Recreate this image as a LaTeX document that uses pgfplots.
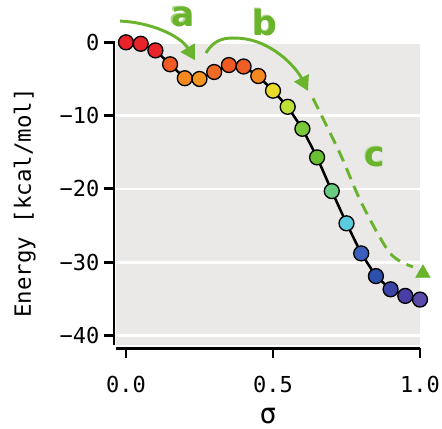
\documentclass[border=0pt]{standalone}
\usepackage{fontspec}
\setmainfont{DejaVu Sans Mono}
\newfontfamily\lblfont{DejaVu Sans}
\usepackage{pgfplots}
\pgfplotsset{compat=1.18}
\usetikzlibrary{arrows.meta}

\definecolor{bgc}{RGB}{234,233,232}
\definecolor{grn}{RGB}{106,180,45}
\definecolor{c1}{RGB}{232,35,42}
\definecolor{c2}{RGB}{232,35,42}
\definecolor{c3}{RGB}{232,38,42}
\definecolor{c4}{RGB}{239,90,37}
\definecolor{c5}{RGB}{245,137,31}
\definecolor{c6}{RGB}{245,149,31}
\definecolor{c7}{RGB}{240,107,37}
\definecolor{c8}{RGB}{238,90,36}
\definecolor{c9}{RGB}{239,93,37}
\definecolor{c10}{RGB}{245,137,31}
\definecolor{c11}{RGB}{232,220,42}
\definecolor{c12}{RGB}{191,224,53}
\definecolor{c13}{RGB}{122,200,58}
\definecolor{c14}{RGB}{104,192,48}
\definecolor{c15}{RGB}{106,204,128}
\definecolor{c16}{RGB}{91,203,224}
\definecolor{c17}{RGB}{58,95,189}
\definecolor{c18}{RGB}{46,79,171}
\definecolor{c19}{RGB}{58,69,165}
\definecolor{c20}{RGB}{74,62,166}
\definecolor{c21}{RGB}{90,74,170}

\tikzset{pt/.style={mark=*, draw=black, line width=1pt, fill=#1}}
\newcommand{\lbl}[1]{\lblfont\bfseries\fontsize{26}{28}\selectfont #1}

\begin{document}
\begin{tikzpicture}
\begin{axis}[
    name=ax,
    scale only axis,
    width=228pt,
    height=228pt,
    xmin=-0.034, xmax=1.0,
    ymin=-41.3, ymax=0.18,
    clip=false,
    axis background/.style={fill=bgc},
    axis lines*=left,
    axis line style={line width=2.2pt, -},
    axis x line shift=2.5pt,
    axis y line shift=1.5pt,
    tick align=outside,
    major tick length=7.5pt,
    every tick/.style={black, line width=2.2pt},
    xtick={0,0.5,1}, xticklabels={0.0,0.5,1.0},
    ytick={-40,-30,-20,-10,0}, yticklabels={−40,−30,−20,−10,0},
    ticklabel style={font=\fontsize{16.5}{20}\selectfont},
    xticklabel style={inner sep=1pt, yshift=-12pt},
    ymajorgrids,
    grid style={white, line width=2pt},
    xlabel={σ},
    ylabel={Energy [kcal/mol]},
    label style={font=\fontsize{16.8}{20}\selectfont},
    xlabel style={font=\fontsize{21}{24}\selectfont, yshift=-7pt},
    ylabel style={yshift=11pt, xshift=-7.5pt},
]

% line through the points
\addplot[black, line width=1.9pt, mark=none] coordinates {
(0.00,0.0) (0.05,-0.2) (0.10,-1.1) (0.15,-3.0) (0.20,-4.9) (0.25,-5.0)
(0.30,-4.05) (0.35,-3.1) (0.40,-3.3) (0.45,-4.6) (0.50,-6.6) (0.55,-8.8)
(0.60,-11.8) (0.65,-15.7) (0.70,-20.3) (0.75,-24.7) (0.80,-28.8)
(0.85,-31.9) (0.90,-33.7) (0.95,-34.6) (1.00,-35.1)
};

% coloured points
\addplot[scatter, only marks, mark size=5.6pt,
    scatter src=explicit symbolic,
    scatter/classes={
      p1={pt=c1}, p2={pt=c2}, p3={pt=c3}, p4={pt=c4}, p5={pt=c5},
      p6={pt=c6}, p7={pt=c7}, p8={pt=c8}, p9={pt=c9}, p10={pt=c10},
      p11={pt=c11}, p12={pt=c12}, p13={pt=c13}, p14={pt=c14}, p15={pt=c15},
      p16={pt=c16}, p17={pt=c17}, p18={pt=c18}, p19={pt=c19}, p20={pt=c20},
      p21={pt=c21}}]
coordinates {
(0.00,0.0) [p1] (0.05,-0.2) [p2] (0.10,-1.1) [p3] (0.15,-3.0) [p4]
(0.20,-4.9) [p5] (0.25,-5.0) [p6] (0.30,-4.05) [p7] (0.35,-3.1) [p8]
(0.40,-3.3) [p9] (0.45,-4.6) [p10] (0.50,-6.6) [p11] (0.55,-8.8) [p12]
(0.60,-11.8) [p13] (0.65,-15.7) [p14] (0.70,-20.3) [p15] (0.75,-24.7) [p16]
(0.80,-28.8) [p17] (0.85,-31.9) [p18] (0.90,-33.7) [p19] (0.95,-34.6) [p20]
(1.00,-35.1) [p21]
};

% green annotation arrows
\draw[grn, line width=2.2pt, -{Triangle[length=11pt,width=12pt]}]
  (axis cs:-0.02,2.9) .. controls (axis cs:0.082,2.73) and (axis cs:0.184,0.95)
  .. (axis cs:0.235,-2.45);
\draw[grn, line width=2.2pt, -{Triangle[length=11pt,width=12pt]}]
  (axis cs:0.272,-1.46) .. controls (axis cs:0.303,0.55) and (axis cs:0.337,0.68)
  .. (axis cs:0.388,0.55) .. controls (axis cs:0.49,0.27) and (axis cs:0.575,-3.14)
  .. (axis cs:0.619,-6.64);
\addplot[grn, line width=2.2pt, dash pattern=on 9pt off 5.5pt, smooth, mark=none]
coordinates {(0.636,-7.64) (0.728,-15.18) (0.802,-22.0) (0.898,-28.77) (0.976,-30.64)};
\addplot[grn, only marks, mark=triangle*, mark size=6.3pt] coordinates {(1.010,-31.5)};

\node[grn!55!white] at (axis cs:0.189,3.55) {\lbl{a}};
\node[grn] at (axis cs:0.194,3.41) {\lbl{a}};
\node[grn!55!white] at (axis cs:0.468,2.87) {\lbl{b}};
\node[grn] at (axis cs:0.473,2.73) {\lbl{b}};
\node[grn!55!white] at (axis cs:0.842,-15.54) {\lbl{c}};
\node[grn] at (axis cs:0.847,-15.68) {\lbl{c}};
\end{axis}
\path (ax.south west) ++(-87pt,-57pt) rectangle ++(331.5pt,315.75pt);
\end{tikzpicture}
\end{document}
